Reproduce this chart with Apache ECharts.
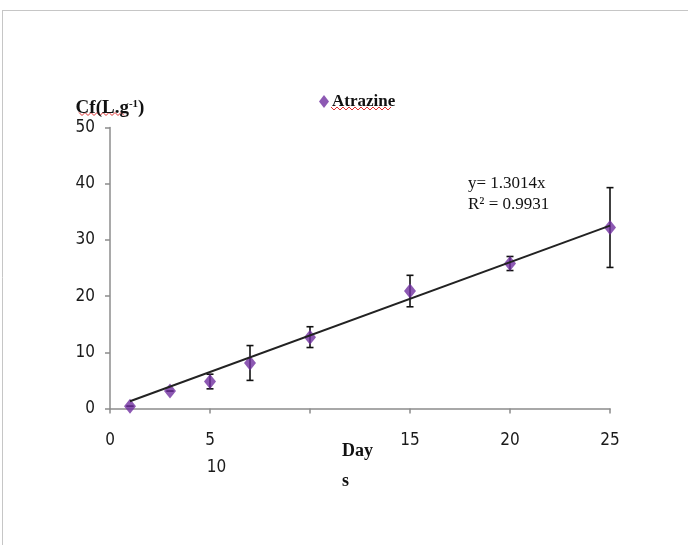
<!DOCTYPE html>
<html>
<head>
<meta charset="utf-8">
<script src="https://cdn.jsdelivr.net/npm/echarts@6/dist/echarts.min.js"></script>
<style>html,body{margin:0;padding:0;background:#fff;}#c{width:688px;height:545px;}</style>
</head>
<body>
<div id="c"></div>
<script>
// ---- data ----
const seriesName = 'Atrazine';
const xDays = [1, 3, 5, 7, 10, 15, 20, 25];
const cfValues = [0.4, 3.1, 4.8, 8.1, 12.7, 20.9, 25.8, 32.2];
const cfErrors = [0, 0, 1.3, 3.1, 1.85, 2.8, 1.25, 7.1];
const trendSlope = 1.3014;
const trendX = [1, 25];
const xTickLabels = {0: '0', 5: '5', 10: '', 15: '15', 20: '20', 25: '25'};
const strayTickLabel = '10';
const yAxisTitle = ['Cf(L.g', '-1', ')'];
const xAxisTitle = 'Day\ns';
const equationLines = ['y= 1.3014x', 'R\u00B2 = 0.9931'];

const pts = xDays.map((x, i) => [x, cfValues[i]]);
const errData = xDays.map((x, i) => [x, cfValues[i] - cfErrors[i], cfValues[i] + cfErrors[i]]);
const trendData = trendX.map(x => [x, trendSlope * x]);

const chart = echarts.init(document.getElementById('c'));
const labelFont = '"DejaVu Sans Condensed", "Liberation Sans Narrow", sans-serif';
const serif = '"Liberation Serif", "DejaVu Serif", serif';
const labelColor = '#1a1a1a';

function squiggle(x0, x1, y, h, step) {
  const p = [];
  let up = true;
  for (let x = x0; x <= x1; x += step) { p.push([x, up ? y - h : y + h]); up = !up; }
  return p;
}

chart.setOption({
  animation: false,
  backgroundColor: '#fff',
  grid: {left: 110, right: 78, top: 127.5, bottom: 136.5},
  legend: {
    data: [{name: seriesName, icon: 'diamond'}],
    left: 314, top: 88, itemWidth: 10, itemHeight: 13, itemGap: 4,
    textStyle: {fontFamily: serif, fontWeight: 'bold', fontSize: 17, color: '#111', padding: [0, 0, 0, -2]}
  },
  xAxis: {
    type: 'value', min: 0, max: 25, interval: 5,
    axisLine: {show: true, lineStyle: {color: '#8c8c8c', width: 1.5}},
    axisTick: {show: true, length: 5, lineStyle: {color: '#8c8c8c', width: 1.5}},
    splitLine: {show: false},
    axisLabel: {
      margin: 19, fontFamily: labelFont, fontSize: 17, color: labelColor, lineHeight: 27,
      formatter: v => v === 5 ? '{a|' + xTickLabels[5] + '}\n{b|' + strayTickLabel + '}' : (xTickLabels[v] || ''),
      rich: {
        a: {fontFamily: labelFont, fontSize: 17, color: labelColor, lineHeight: 27, align: 'center'},
        b: {fontFamily: labelFont, fontSize: 17, color: labelColor, lineHeight: 27, padding: [0, 0, 0, 13]}
      }
    }
  },
  yAxis: {
    type: 'value', min: 0, max: 50, interval: 10,
    name: '{a|' + yAxisTitle[0] + '}{s|' + yAxisTitle[1] + '}{a|' + yAxisTitle[2] + '}',
    nameLocation: 'end', nameGap: 9,
    nameTextStyle: {
      rich: {
        a: {fontFamily: serif, fontWeight: 'bold', fontSize: 19, color: '#111'},
        s: {fontFamily: serif, fontWeight: 'bold', fontSize: 11, color: '#111', verticalAlign: 'top', padding: [0, 0, 9, 0]}
      }
    },
    axisLine: {show: true, lineStyle: {color: '#8c8c8c', width: 1.5}},
    axisTick: {show: true, length: 5, lineStyle: {color: '#8c8c8c', width: 1.5}},
    splitLine: {show: false},
    axisLabel: {margin: 15, fontFamily: labelFont, fontSize: 17, color: labelColor}
  },
  series: [
    {
      type: 'custom', name: 'err', z: 3,
      data: errData,
      renderItem: function (params, api) {
        const x = api.value(0);
        const lo = api.coord([x, api.value(1)]);
        const hi = api.coord([x, api.value(2)]);
        const hw = 3.5;
        const st = {stroke: '#111', lineWidth: 1.6};
        return {type: 'group', children: [
          {type: 'line', shape: {x1: lo[0], y1: lo[1], x2: hi[0], y2: hi[1]}, style: st},
          {type: 'line', shape: {x1: lo[0] - hw, y1: lo[1], x2: lo[0] + hw, y2: lo[1]}, style: st},
          {type: 'line', shape: {x1: hi[0] - hw, y1: hi[1], x2: hi[0] + hw, y2: hi[1]}, style: st}
        ]};
      },
      silent: true
    },
    {
      type: 'scatter', name: seriesName, z: 4,
      symbol: 'diamond', symbolSize: [12, 15],
      itemStyle: {color: '#7030A0'},
      data: pts
    },
    {
      type: 'line', name: 'trend', z: 5,
      data: trendData, symbol: 'none',
      lineStyle: {color: '#222', width: 2}
    }
  ],
  graphic: [
    {type: 'line', shape: {x1: 2, y1: 10.5, x2: 688, y2: 10.5}, style: {stroke: '#c6c6c6', lineWidth: 1}},
    {type: 'line', shape: {x1: 2.5, y1: 10, x2: 2.5, y2: 545}, style: {stroke: '#c6c6c6', lineWidth: 1}},
    {type: 'text', left: 342, top: 436, style: {text: xAxisTitle, fontFamily: serif, fontWeight: 'bold', fontSize: 18, lineHeight: 30, fill: '#111'}},
    {type: 'text', left: 468, top: 173, style: {text: equationLines.join('\n'), fontFamily: serif, fontSize: 17, lineHeight: 21, fill: '#111'}},
    {type: 'polyline', shape: {points: squiggle(331, 392, 108.5, 1.5, 3)}, style: {stroke: '#e03030', lineWidth: 1, fill: null}},
    {type: 'polyline', shape: {points: squiggle(79, 126, 114, 1.5, 3)}, style: {stroke: '#e03030', lineWidth: 1, fill: null}}
  ]
});
</script>
</body>
</html>
